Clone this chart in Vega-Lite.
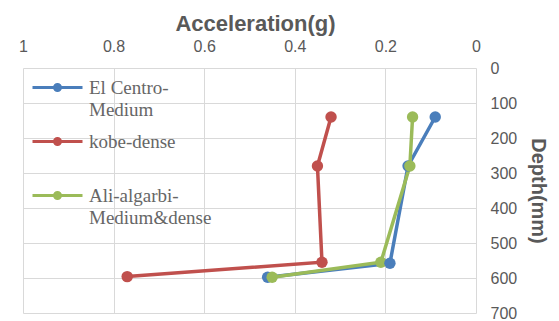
{
  "$schema": "https://vega.github.io/schema/vega-lite/v6.json",
  "width": 453,
  "height": 245,
  "autosize": "none",
  "padding": {"left": 23, "top": 68, "right": 83, "bottom": 8},
  "background": "white",
  "config": {"view": {"stroke": null}},
  "data": {"values": [
    {"series": "El Centro-Medium", "accel": 0.09, "depth": 140},
    {"series": "El Centro-Medium", "accel": 0.15, "depth": 280},
    {"series": "El Centro-Medium", "accel": 0.19, "depth": 558},
    {"series": "El Centro-Medium", "accel": 0.46, "depth": 598},
    {"series": "kobe-dense", "accel": 0.32, "depth": 140},
    {"series": "kobe-dense", "accel": 0.35, "depth": 280},
    {"series": "kobe-dense", "accel": 0.34, "depth": 555},
    {"series": "kobe-dense", "accel": 0.77, "depth": 596},
    {"series": "Ali-algarbi-Medium&dense", "accel": 0.14, "depth": 140},
    {"series": "Ali-algarbi-Medium&dense", "accel": 0.146, "depth": 280},
    {"series": "Ali-algarbi-Medium&dense", "accel": 0.21, "depth": 555},
    {"series": "Ali-algarbi-Medium&dense", "accel": 0.45, "depth": 598}
  ]},
  "mark": {"type": "line", "strokeWidth": 3.5, "point": {"size": 130, "filled": true, "opacity": 1}},
  "encoding": {
    "x": {
      "field": "accel", "type": "quantitative",
      "scale": {"domain": [0, 1], "reverse": true, "nice": false, "zero": false},
      "axis": {
        "orient": "top", "title": "Acceleration(g)", "values": [0, 0.2, 0.4, 0.6, 0.8, 1],
        "format": ".1~f", "domain": false, "ticks": false, "labelPadding": 14,
        "labelFont": "Liberation Sans", "labelFontSize": 16, "labelColor": "#595959",
        "titleFont": "Liberation Sans", "titleFontSize": 22, "titleFontWeight": "bold", "titleColor": "#595959",
        "titlePadding": 3, "titleX": 232,
        "grid": true, "gridColor": "#d9d9d9", "gridWidth": 1,
        "labelFlush": false
      }
    },
    "y": {
      "field": "depth", "type": "quantitative",
      "scale": {"domain": [0, 700], "reverse": true, "nice": false},
      "axis": {
        "orient": "right", "title": "Depth(mm)", "values": [0, 100, 200, 300, 400, 500, 600, 700],
        "domain": false, "ticks": false, "labelPadding": 14,
        "labelFont": "Liberation Sans", "labelFontSize": 16, "labelColor": "#595959",
        "labelBaseline": "middle",
        "titleFont": "Liberation Sans", "titleFontSize": 20, "titleFontWeight": "bold", "titleColor": "#595959",
        "titlePadding": 11,
        "grid": true, "gridColor": "#d9d9d9", "gridWidth": 1,
        "labelFlush": false
      }
    },
    "color": {
      "field": "series", "type": "nominal",
      "scale": {
        "domain": ["El Centro-Medium", "kobe-dense", "Ali-algarbi-Medium&dense"],
        "range": ["#4a7ebb", "#c0504d", "#9bbb59"]
      },
      "legend": {
        "orient": "none", "legendX": 13, "legendY": -2, "title": null,
        "symbolType": "M-1.25,0H1.25M-0.15,0A0.15,0.15,0,1,1,0.15,0A0.15,0.15,0,1,1,-0.15,0Z",
        "symbolSize": 1600, "symbolStrokeWidth": 3,
        "labelFont": "Liberation Serif", "labelFontSize": 19, "labelColor": "#666666",
        "labelOffset": 10, "rowPadding": 0, "labelLimit": 300,
        "labelExpr": "datum.label == 'El Centro-Medium' ? ['El Centro-', 'Medium'] : datum.label == 'Ali-algarbi-Medium&dense' ? ['Ali-algarbi-', 'Medium&dense'] : [datum.label, ' ']",
        "encode": {
          "symbols": {"update": {"fill": {"scale": "color", "field": "value"}, "fillOpacity": {"value": 1}}},
          "labels": {"update": {"lineHeight": {"value": 22}}}
        }
      }
    },
    "order": {"field": "depth", "type": "quantitative"}
  }
}
